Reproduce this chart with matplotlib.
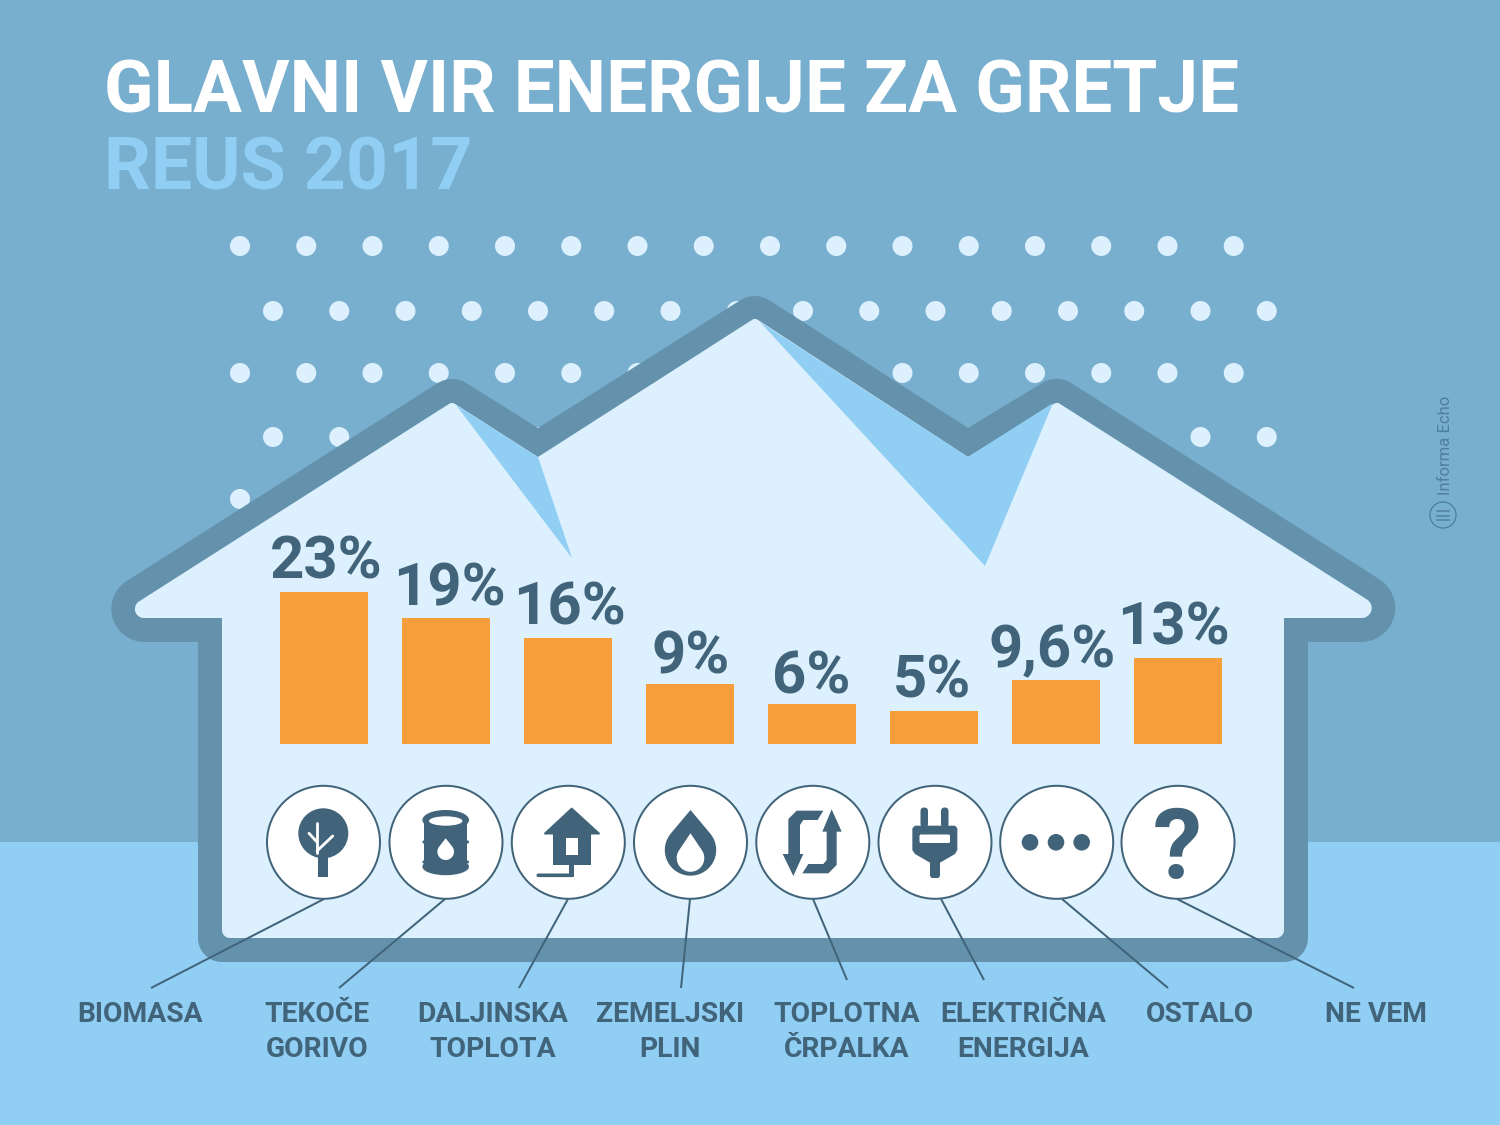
import numpy as np
import matplotlib
matplotlib.use("Agg")
from matplotlib import pyplot as plt
from matplotlib.patches import Circle, Ellipse, Polygon, Rectangle, FancyBboxPatch

plt.rcParams['font.family'] = ['Roboto', 'DejaVu Sans']

# data
sources = ['BIOMASA', 'TEKOČE\nGORIVO', 'DALJINSKA\nTOPLOTA', 'ZEMELJSKI\nPLIN',
           'TOPLOTNA\nČRPALKA', 'ELEKTRIČNA\nENERGIJA', 'OSTALO', 'NE VEM']
shares = [23, 19, 16, 9, 6, 5, 9.6, 13]
share_labels = ['23%', '19%', '16%', '9%', '6%', '5%', '9,6%', '13%']

# colours
SKY = '#78AECE'
GROUND = '#90CEF3'
WALL = '#6492AC'
INSIDE = '#DCF0FE'
DARK = '#41647A'
ORANGE = '#F79D3C'

W, H = 1500, 1125


def px(v):
    return v * 0.72


def rounded(verts, radii, n=16):
    # polygon with circular fillets, radius per vertex
    verts = np.array(verts, dtype=float)
    out = []
    for i in range(len(verts)):
        p = verts[i]
        r = radii[i]
        if r == 0:
            out.append(p)
            continue
        a = verts[i - 1] - p
        b = verts[(i + 1) % len(verts)] - p
        a = a / np.hypot(*a)
        b = b / np.hypot(*b)
        ang = np.arccos(np.dot(a, b))
        t = r / np.tan(ang / 2)
        c = p + (a + b) / np.hypot(*(a + b)) * (r / np.sin(ang / 2))
        s = p + a * t - c
        e = p + b * t - c
        a0 = np.arctan2(s[1], s[0])
        a1 = np.arctan2(e[1], e[0])
        d = (a1 - a0 + np.pi) % (2 * np.pi) - np.pi
        for k in np.linspace(0, 1, n):
            out.append(c + r * np.array([np.cos(a0 + d * k), np.sin(a0 + d * k)]))
    return np.array(out)


def drop(cx, cy, r, tip):
    # teardrop: circle plus tangents up to the tip
    a = np.arcsin(r / (cy - tip))
    th = np.linspace(-a, np.pi + a, 40)
    pts = np.column_stack([cx + r * np.cos(th), cy + r * np.sin(th)])
    return np.vstack([[cx, tip], pts])


fig = plt.figure(figsize=(15, 11.25), dpi=100)
ax = fig.add_axes([0, 0, 1, 1])
ax.set_xlim(0, W)
ax.set_ylim(H, 0)
ax.axis('off')

ax.add_patch(Rectangle((0, 0), W, H, color=SKY, lw=0, zorder=0))
ax.add_patch(Rectangle((0, 842), W, H - 842, color=GROUND, lw=0, zorder=0))

# dots behind the house
for row, y in enumerate([246, 311, 373, 437]):
    x0 = 273 if row % 2 else 240
    for x in x0 + 66.25 * np.arange(16):
        ax.add_patch(Circle((x, y), 10, color=INSIDE, lw=0, zorder=1))
ax.add_patch(Circle((240, 499), 10, color=INSIDE, lw=0, zorder=1))

# house
outer = [(31, 642), (198, 642), (198, 962), (1308, 962), (1308, 642), (1478, 642),
         (1057, 374), (968, 428), (755, 291), (538, 428), (452, 374)]
outer_r = [33, 0, 24, 24, 0, 34, 27, 0, 27, 0, 27]
inner = [(113, 618), (222, 618), (222, 938), (1284, 938), (1284, 618), (1396, 618),
         (1057, 402), (968, 457), (755, 318), (538, 457), (452, 402)]
inner_r = [9, 0, 8, 8, 0, 10, 5, 0, 5, 0, 5]
ax.add_patch(Polygon(rounded(outer, outer_r), closed=True, color=WALL, lw=0, zorder=2))
ax.add_patch(Polygon(rounded(inner, inner_r), closed=True, color=INSIDE, lw=0, zorder=3))
ax.add_patch(Polygon([(456, 405), (538, 457), (572, 558)], closed=True, color=GROUND, lw=0, zorder=4))
ax.add_patch(Polygon([(760, 322), (968, 457), (1053, 403), (985, 566)], closed=True, color=GROUND, lw=0, zorder=4))

# title
ax.text(104, 93, 'GLAVNI VIR ENERGIJE ZA GRETJE', color='white', fontsize=52.4,
        fontweight='bold', va='center', ha='left', zorder=5)
ax.text(104, 170, 'REUS 2017', color=GROUND, fontsize=52.9,
        fontweight='bold', va='center', ha='left', zorder=5)

# leader lines and names
centers = [323.5, 446, 568.3, 690.5, 812.8, 935, 1056.7, 1178]
line_top = [324, 445, 568, 690, 813, 941, 1062, 1177]
line_end = [(151, 988), (339, 988), (519, 988), (681, 988), (847, 980), (984, 980), (1168, 988), (1354, 988)]
label_x = [140, 317, 493, 670, 847, 1023, 1200, 1376]
for top, end in zip(line_top, line_end):
    ax.plot([top, end[0]], [899, end[1]], color=DARK, lw=px(2), zorder=5, solid_capstyle='butt')
for x, name in zip(label_x, sources):
    ax.text(x, 1001, name, color=DARK, fontsize=20.3, fontweight='bold', ha='center', va='top',
            linespacing=1.38, zorder=5)

for x in centers:
    ax.add_patch(Circle((x, 842.3), 56.5, fc='white', ec=DARK, lw=px(2), zorder=6))

ic = {'color': DARK, 'lw': 0, 'zorder': 7}
wh = {'color': 'white', 'lw': 0, 'zorder': 8}

# tree
ax.add_patch(Circle((323.3, 833.3), 25, **ic))
ax.add_patch(Rectangle((318.3, 855), 10, 22, **ic))
for xs, ys in [((316.7, 316.7), (823, 853)), ((309, 316.7), (833.3, 841.7)), ((332.7, 317), (836, 851))]:
    ax.plot(xs, ys, color='white', lw=px(2.8), zorder=8, solid_capstyle='round')

# barrel
ax.add_patch(Rectangle((424, 820), 43.4, 46.7, **ic))
ax.add_patch(Ellipse((445.7, 820), 46.6, 20, **ic))
ax.add_patch(Ellipse((445.7, 866.7), 46.6, 17, **ic))
ax.add_patch(Ellipse((445.7, 821), 33.4, 9.4, **wh))
for y in (842, 862):
    ax.add_patch(Circle((424, y), 1.6, **ic))
    ax.add_patch(Circle((467.4, y), 1.6, **ic))
ax.add_patch(Polygon(drop(445.7, 851.7, 8.3, 838.3), closed=True, **wh))

# house with pipe
ax.add_patch(Polygon(rounded([(571.7, 807.3), (601.5, 834.5), (542.5, 834.5)], [1, 1, 1]), closed=True, **ic))
ax.add_patch(Rectangle((553.3, 833), 37.4, 32, **ic))
ax.add_patch(Rectangle((566, 837.7), 12.3, 17.3, **wh))
ax.add_patch(Rectangle((569.3, 864), 4.7, 13.3, **ic))
ax.add_patch(FancyBboxPatch((536.5, 873.5), 37, 3.6, boxstyle='round,pad=0,rounding_size=1.8', **ic))

# flame
ax.add_patch(Polygon(drop(690.5, 850, 25.7, 810), closed=True, **ic))
ax.add_patch(Polygon(drop(690.5, 858, 13.8, 833.3), closed=True, **wh))

# heat pump arrows (x, y in crop pixels)
left_piece = np.array([(235, 122), (155, 122), (130, 147), (130, 252), (113, 252), (145, 318), (175, 252),
                       (165, 252), (165, 165), (175, 150), (218, 150)], dtype=float)
right_piece = np.array([(172, 310), (250, 310), (275, 285), (275, 185), (290, 185), (260, 118), (232, 185),
                        (245, 185), (245, 270), (235, 282), (190, 282)], dtype=float)
for piece in (left_piece, right_piece):
    ax.add_patch(Polygon(np.column_stack([745 + piece[:, 0] / 3, 770 + piece[:, 1] / 3]), closed=True, **ic))

# plug
plug = np.array([(510, 167), (630, 167), (637, 175), (637, 240), (630, 252), (585, 278), (585, 318), (580, 324),
                 (560, 324), (555, 318), (555, 278), (510, 252), (502, 240), (502, 175)], dtype=float)
ax.add_patch(Polygon(np.column_stack([745 + plug[:, 0] / 3, 770 + plug[:, 1] / 3]), closed=True, **ic))
for x in (920.5, 941):
    ax.add_patch(FancyBboxPatch((x, 807.5), 7.5, 20, boxstyle='round,pad=0,rounding_size=3.7', **ic))
ax.add_patch(FancyBboxPatch((919.5, 834.5), 30.5, 8.5, boxstyle='round,pad=0,rounding_size=1.5', **wh))

# three dots
for x in (1030, 1056, 1081.7):
    ax.add_patch(Circle((x, 842.3), 8.3, **ic))

# question mark
ax.text(1177.5, 841, '?', color=DARK, fontsize=71, fontweight='bold', ha='center', va='center_baseline', zorder=7)

# signature
ax.text(1445, 445, 'Informa Echo', color='#4F7F9B', fontsize=12, rotation=90, ha='center', va='center', zorder=5)
ax.add_patch(Circle((1443, 515), 13, fc='none', ec='#4F7F9B', lw=px(1.3), zorder=5))
for y in (511, 515.5, 520):
    ax.plot([1437, 1449], [y, y], color='#4F7F9B', lw=px(1.5), zorder=5)

# bars: baseline at y=744, 6.63 px per percentage point
bar_ax = fig.add_axes([263 / W, (H - 744) / H, 976 / W, 6.63 * 25 / H])
bar_ax.patch.set_alpha(0)
bar_ax.axis('off')
bar_ax.set_xlim(-0.5, 7.5)
bar_ax.set_ylim(0, 25)
idx = np.arange(len(shares))
bar_ax.bar(idx, shares, width=88 / 122, color=ORANGE)

label_dx = [2, 3, 2, 1, -1, -2, -4, -5]
label_dy = [1, 1, 1, -1, -1, 1, 1, 1]
for i, (v, txt) in enumerate(zip(shares, share_labels)):
    bar_ax.annotate(txt, (i, v), xytext=(px(label_dx[i]), px(label_dy[i])), textcoords='offset points',
                    color=DARK, fontsize=43, fontweight='bold', ha='center', va='bottom',
                    annotation_clip=False)

fig.savefig('out.png', dpi=100)
